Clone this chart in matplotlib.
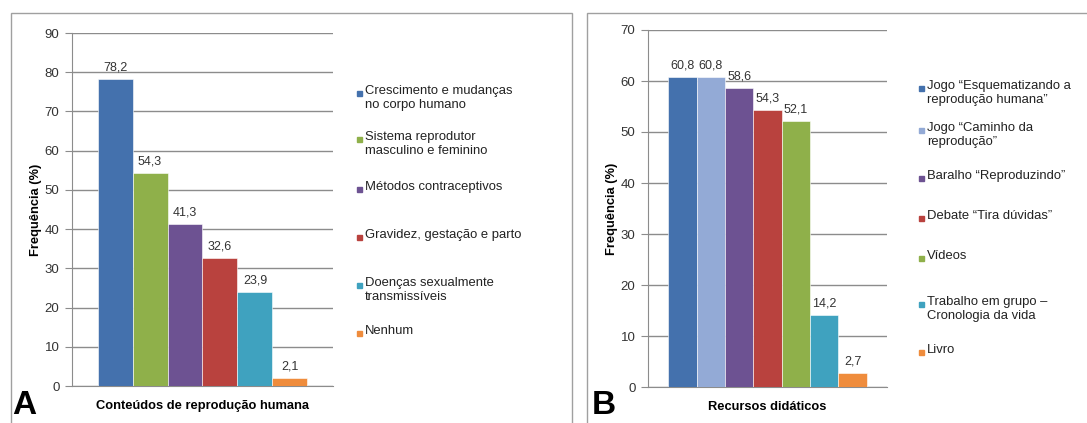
import matplotlib.pyplot as plt
from matplotlib.patches import Rectangle

plt.rcParams['font.family'] = ['Liberation Sans', 'DejaVu Sans']

# Panel A data
topics = ["Crescimento e mudanças\nno corpo humano",
          "Sistema reprodutor\nmasculino e feminino",
          "Métodos contraceptivos",
          "Gravidez, gestação e parto",
          "Doenças sexualmente\ntransmissíveis",
          "Nenhum"]
topic_freq = [78.2, 54.3, 41.3, 32.6, 23.9, 2.1]
topic_colors = ["#4471ad", "#8fb04a", "#6d5292", "#b9423e", "#3fa2bf", "#ef8c3c"]

# Panel B data
resources = ["Jogo \u201cEsquematizando a\nreprodução humana\u201d",
             "Jogo \u201cCaminho da\nreprodução\u201d",
             "Baralho \u201cReproduzindo\u201d",
             "Debate \u201cTira dúvidas\u201d",
             "Vídeos",
             "Trabalho em grupo \u2013\nCronologia da vida",
             "Livro"]
resource_freq = [60.8, 60.8, 58.6, 54.3, 52.1, 14.2, 2.7]
resource_colors = ["#4471ad", "#93aad6", "#6d5292", "#b9423e", "#8fb04a", "#3fa2bf", "#ef8c3c"]

W, H = 1087, 423
fig = plt.figure(figsize=(W / 100, H / 100), dpi=100)


def px_axes(left, top, right, bottom):
    return fig.add_axes([left / W, 1 - bottom / H, (right - left) / W, (bottom - top) / H])


def draw_panel(ax, values, colors, ymax, xlabel, pad):
    n = len(values)
    ax.bar(range(n), values, width=1.0, color=colors, edgecolor="white", linewidth=0.4, zorder=3)
    for i, v in enumerate(values):
        ax.annotate(f"{v:.1f}".replace(".", ","), (i, v), xytext=(0, 4),
                    textcoords="offset points", ha="center", va="bottom",
                    fontsize=9, color="#333333")
    ax.set_xlim(-0.5 - pad, n - 0.5 + pad)
    ax.set_ylim(0, ymax)
    ax.set_yticks(range(0, ymax + 1, 10))
    ax.yaxis.grid(True, color="#8c8c8c", linewidth=1.0, zorder=0)
    ax.set_xticks([])
    for s in ["top", "right"]:
        ax.spines[s].set_visible(False)
    for s in ["left", "bottom"]:
        ax.spines[s].set_color("#8c8c8c")
    ax.tick_params(axis="y", length=5, color="#8c8c8c", labelsize=9.5, labelcolor="#333333", pad=4)
    ax.set_xlabel(xlabel, fontsize=9.3, fontweight="bold", labelpad=10)
    ax.set_ylabel("Frequência (%)", fontsize=9.3, fontweight="bold", labelpad=2)


def draw_legend(labels, colors, x, ys):
    for lab, col, y in zip(labels, colors, ys):
        fig.patches.append(Rectangle(((x - 8) / W, 1 - (y + 3) / H), 5 / W, 5 / H,
                                     transform=fig.transFigure, color=col))
        fig.text(x / W, 1 - (y - 8) / H, lab, fontsize=9.4, color="#222222",
                 va="top", ha="left", linespacing=1.25)


axA = px_axes(72, 33, 333, 386)
draw_panel(axA, topic_freq, topic_colors, 90, "Conteúdos de reprodução humana", 0.73)
draw_legend(topics, topic_colors, 365, [93, 139, 189, 237, 285, 333])

axB = px_axes(648, 30, 887, 387)
draw_panel(axB, resource_freq, resource_colors, 70, "Recursos didáticos", 0.71)
draw_legend(resources, resource_colors, 927, [88, 130, 178, 218, 258, 304, 352])

# panel frames
fig.patches.append(Rectangle((11 / W, -0.05), (572 - 11) / W, 1.05 - 13 / H,
                             transform=fig.transFigure, fill=False, edgecolor="#a0a0a0", linewidth=1))
fig.patches.append(Rectangle((587 / W, -0.05), (1100 - 587) / W, 1.05 - 13 / H,
                             transform=fig.transFigure, fill=False, edgecolor="#a0a0a0", linewidth=1))

fig.text(12 / W, 0.004, "A", fontsize=24, fontweight="bold", va="bottom", ha="left")
fig.text(592 / W, 0.004, "B", fontsize=24, fontweight="bold", va="bottom", ha="left")

fig.savefig("out.png", dpi=100, facecolor="white")
